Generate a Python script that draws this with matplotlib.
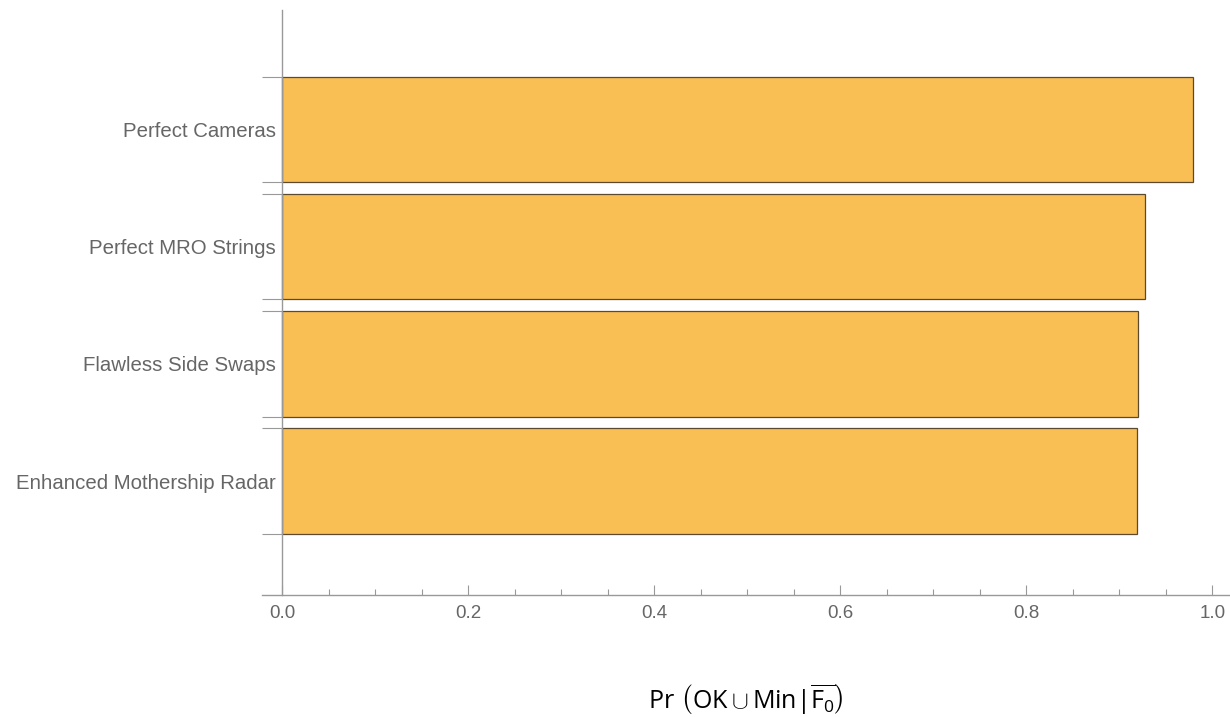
import numpy as np
import matplotlib.pyplot as plt
from matplotlib.ticker import MultipleLocator, FixedLocator

# upgrades (top to bottom in the picture)
upgrades = ["Perfect Cameras", "Perfect MRO Strings", "Flawless Side Swaps",
            "Enhanced Mothership Radar"]
prob = [0.979, 0.928, 0.920, 0.919]

plt.rcParams['mathtext.fontset'] = 'custom'
plt.rcParams['mathtext.rm'] = 'Open Sans'
plt.rcParams['mathtext.it'] = 'Open Sans:italic'

fig = plt.figure(figsize=(12.3, 7.17), dpi=100)
ax = fig.add_axes([262 / 1230, 122 / 717, 968 / 1230, 585 / 717])

n = len(upgrades)
ypos = np.arange(n)[::-1]  # first category on top
h = 0.9
ax.barh(ypos, prob, height=h, color='#F9BE54', edgecolor='#5C4A2E', linewidth=0.9)

ax.set_xlim(-0.022, 1.019)
ax.set_ylim(-0.972, 4.02)

for s in ['top', 'right']:
    ax.spines[s].set_visible(False)
ax.spines['left'].set_position(('data', 0))
for s in ['left', 'bottom']:
    ax.spines[s].set_color('#999999')
    ax.spines[s].set_linewidth(1.0)

# x ticks
ax.xaxis.set_major_locator(MultipleLocator(0.2))
ax.xaxis.set_minor_locator(MultipleLocator(0.05))
ax.xaxis.set_major_formatter(plt.FuncFormatter(lambda v, p: f"{v:.1f}"))
ax.tick_params(axis='x', which='major', direction='in', length=7, width=0.8,
               color='#999999', labelsize=13.5, labelcolor='#666666', pad=7)
ax.tick_params(axis='x', which='minor', direction='in', length=4, width=0.8,
               color='#999999')

# y ticks: labels at bar centres, marks at bar edges
ax.yaxis.set_major_locator(FixedLocator(ypos))
ax.set_yticklabels(upgrades, fontname='Liberation Sans')
edges = np.concatenate([ypos - h / 2, ypos + h / 2])
ax.yaxis.set_minor_locator(FixedLocator(edges))
ax.tick_params(axis='y', which='major', length=0, labelsize=14.7,
               labelcolor='#666666', pad=5)
ax.tick_params(axis='y', which='minor', direction='out', length=14.4, width=0.8,
               color='#999999')
for lab in ax.get_xticklabels():
    lab.set_fontname('Liberation Sans')

ax.set_xlabel(r'$\mathrm{Pr}\ \left(\mathrm{OK}\cup\mathrm{Min}|\overline{\mathrm{F}_0}\right)$',
              fontsize=18, labelpad=44, color='#000000')

fig.savefig('out.png', dpi=100)
